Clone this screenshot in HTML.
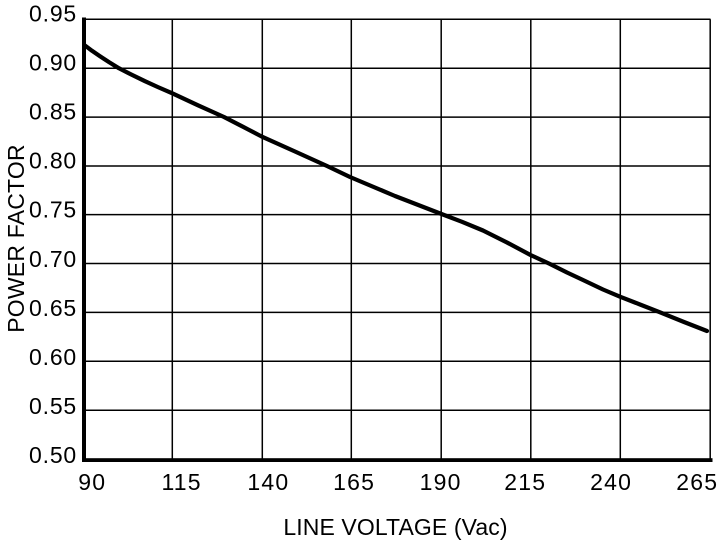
<!DOCTYPE html>
<html>
<head>
<meta charset="utf-8">
<style>
  html, body { margin: 0; padding: 0; background: #fff; }
  body { width: 719px; height: 541px; overflow: hidden; }
  svg { display: block; }
  text { font-family: "Liberation Sans", Arial, Helvetica, sans-serif; fill: #000; }
</style>
</head>
<body>
<svg width="719" height="541" viewBox="0 0 719 541" xmlns="http://www.w3.org/2000/svg">
  <rect x="0" y="0" width="719" height="541" fill="#fff"/>
  <!-- horizontal grid lines -->
  <g stroke="#000" stroke-width="1.5" fill="none">
    <line x1="84" y1="19.3" x2="710.5" y2="19.3"/>
    <line x1="84" y1="68.2" x2="710.5" y2="68.2"/>
    <line x1="84" y1="117.1" x2="710.5" y2="117.1"/>
    <line x1="84" y1="166" x2="710.5" y2="166"/>
    <line x1="84" y1="214.6" x2="710.5" y2="214.6"/>
    <line x1="84" y1="263.5" x2="710.5" y2="263.5"/>
    <line x1="84" y1="312.4" x2="710.5" y2="312.4"/>
    <line x1="84" y1="361.3" x2="710.5" y2="361.3"/>
    <line x1="84" y1="410.2" x2="710.5" y2="410.2"/>
    <!-- vertical grid lines -->
    <line x1="172.3" y1="19.3" x2="172.3" y2="460"/>
    <line x1="262.3" y1="19.3" x2="262.3" y2="460"/>
    <line x1="351.3" y1="19.3" x2="351.3" y2="460"/>
    <line x1="441.2" y1="19.3" x2="441.2" y2="460"/>
    <line x1="530.8" y1="19.3" x2="530.8" y2="460"/>
    <line x1="620.3" y1="19.3" x2="620.3" y2="460"/>
    <line x1="710.2" y1="19.3" x2="710.2" y2="460"/>
  </g>
  <!-- thick axes -->
  <rect x="82" y="17.5" width="4" height="444.5" fill="#000"/>
  <rect x="82" y="458.2" width="630.5" height="3.8" fill="#000"/>

  <!-- curve -->
  <polyline fill="none" stroke="#000" stroke-width="4.2" stroke-linejoin="round" stroke-linecap="round"
    points="85,45.5 92,50.8 100,56.2 109,62.1 119,68.3 132,74.9 145,81.2 158,87.1 172.3,93.3 198,105.3 224,117 243,126.8 262,136.7 295,151.5 327,166 350,177 395,196 441.5,214 462,221.8 483,230.5 507,242.5 530.5,255 550,264 567,272.5 583,280 603,289.5 620,296.7 640,304.5 660,312.3 684,322 707,331"/>

  <!-- y tick labels -->
  <g font-size="23" text-anchor="end" letter-spacing="0.8">
    <text x="77" y="21.5">0.95</text>
    <text x="77" y="70.6">0.90</text>
    <text x="77" y="119.6">0.85</text>
    <text x="77" y="168.6">0.80</text>
    <text x="77" y="217.7">0.75</text>
    <text x="77" y="266.8">0.70</text>
    <text x="77" y="315.8">0.65</text>
    <text x="77" y="364.8">0.60</text>
    <text x="77" y="413.9">0.55</text>
    <text x="77" y="463">0.50</text>
  </g>

  <!-- x tick labels -->
  <g font-size="23" text-anchor="middle" letter-spacing="1.2">
    <text x="92.3" y="490">90</text>
    <text x="181.6" y="490">115</text>
    <text x="268.4" y="490">140</text>
    <text x="354.1" y="490">165</text>
    <text x="440.6" y="490">190</text>
    <text x="525.3" y="490">215</text>
    <text x="611.1" y="490">240</text>
    <text x="697.3" y="490">265</text>
  </g>

  <!-- axis titles -->
  <text x="395.5" y="535" font-size="23" text-anchor="middle" letter-spacing="0.1">LINE VOLTAGE (Vac)</text>
  <text transform="translate(24,238.5) rotate(-90)" x="0" y="0" font-size="23" text-anchor="middle" letter-spacing="0.2">POWER FACTOR</text>
</svg>
</body>
</html>
